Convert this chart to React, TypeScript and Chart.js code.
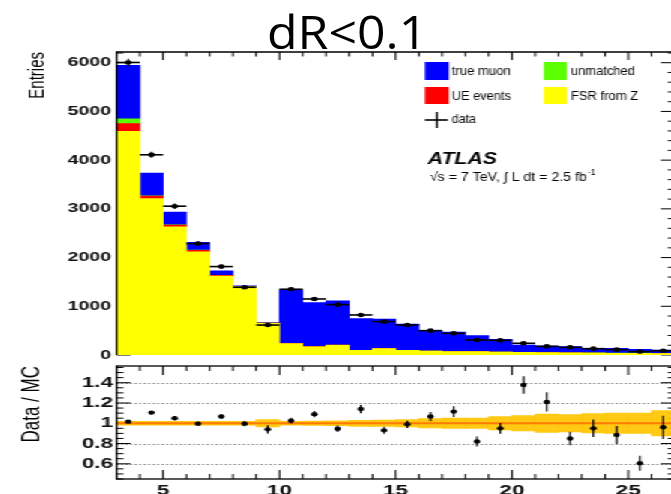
import React, { useEffect, useRef } from "react";
import { Chart, registerables } from "chart.js";

Chart.register(...registerables);

// ---------------- data ----------------
const binEdges = [3, 4, 5, 6, 7, 8, 9, 10, 11, 12, 13, 14, 15, 16, 17, 18, 19, 20, 21, 22, 23, 24, 25, 26, 27];
const binCenters = [3.5, 4.5, 5.5, 6.5, 7.5, 8.5, 9.5, 10.5, 11.5, 12.5, 13.5, 14.5, 15.5, 16.5, 17.5, 18.5, 19.5, 20.5, 21.5, 22.5, 23.5, 24.5, 25.5, 26.5];
const BIN_HALF = 0.5;

const fsrFromZ = [4590, 3210, 2630, 2120, 1620, 1395, 650, 235, 170, 200, 95, 130, 95, 80, 70, 70, 60, 55, 50, 45, 40, 35, 35, 30];
const ueEvents = [160, 50, 35, 28, 15, 5, 3, 3, 3, 3, 2, 2, 2, 2, 2, 1, 1, 1, 1, 1, 1, 1, 1, 1];
const unmatched = [100, 8, 5, 4, 3, 2, 1, 2, 2, 2, 1, 1, 1, 1, 1, 1, 1, 1, 1, 1, 1, 1, 1, 1];
const trueMuon = [1095, 465, 262, 163, 88, 16, 14, 1100, 900, 905, 649, 602, 539, 422, 397, 325, 260, 148, 133, 124, 95, 100, 80, 71];

const dataCounts = [6005, 4110, 3055, 2287, 1815, 1390, 615, 1350, 1150, 1034, 822, 685, 616, 500, 445, 308, 301, 240, 178, 157, 130, 110, 70, 88];
const dataErrors = [78, 64, 55, 48, 43, 37, 25, 37, 34, 32, 29, 26, 25, 22, 21, 18, 17, 15, 13, 13, 11, 10, 8, 9];

const ratioValues = [1.016, 1.105, 1.05, 0.996, 1.066, 0.996, 0.94, 1.026, 1.09, 0.946, 1.14, 0.93, 0.99, 1.066, 1.115, 0.82, 0.95, 1.377, 1.21, 0.85, 0.95, 0.885, 0.605, 0.96];
const ratioErrors = [0.012, 0.015, 0.018, 0.02, 0.024, 0.026, 0.04, 0.028, 0.03, 0.032, 0.041, 0.036, 0.036, 0.045, 0.053, 0.05, 0.053, 0.086, 0.095, 0.066, 0.086, 0.089, 0.074, 0.115];
const mcUncertainty = [0.018, 0.018, 0.018, 0.018, 0.019, 0.02, 0.036, 0.02, 0.021, 0.023, 0.03, 0.031, 0.036, 0.045, 0.05, 0.05, 0.065, 0.075, 0.09, 0.085, 0.095, 0.1, 0.1, 0.125];

const xTicks = [5, 10, 15, 20, 25];
const yTicksMain = [0, 1000, 2000, 3000, 4000, 5000, 6000];
const yTicksRatio = [0.6, 0.8, 1, 1.2, 1.4];

const legendLabels = ["true muon", "unmatched", "UE events", "FSR from Z", "data"];

// ---------------- layout / style ----------------
const SX = 1.5; // horizontal stretch of the whole figure
const CANVAS_W = 460;
const FONT = '"Liberation Sans", Arial, Helvetica, sans-serif';
const C_YELLOW = "#FFFF00";
const C_RED = "#FF0000";
const C_GREEN = "#5CFF00";
const C_BLUE = "#0000FF";

function fitText(ctx: any, text: string, xPx: number, yMid: number, font: string, widthPx: number) {
  ctx.save();
  ctx.font = font;
  const w = ctx.measureText(text).width;
  const k = widthPx / SX / w;
  ctx.translate(xPx / SX, yMid);
  ctx.scale(k, 1);
  ctx.fillStyle = "#000";
  ctx.textBaseline = "middle";
  ctx.textAlign = "left";
  ctx.fillText(text, 0, 0);
  ctx.restore();
}

const mainDeco = {
  id: "mainDeco",
  beforeDatasetsDraw(chart: any) {
    const { ctx, chartArea: a } = chart;
    const x = chart.scales.x;
    const y = chart.scales.y;
    ctx.save();
    ctx.strokeStyle = "#000";
    ctx.lineWidth = 1;
    ctx.beginPath();
    for (let v = 3; v <= 27; v++) {
      const px = x.getPixelForValue(v);
      const len = v % 5 === 0 ? 8 : 4.5;
      ctx.moveTo(px, a.top);
      ctx.lineTo(px, a.top + len);
    }
    for (let v = 0; v <= 6200; v += 200) {
      const py = y.getPixelForValue(v);
      const len = (v % 1000 === 0 ? 14 : 7) / SX;
      ctx.moveTo(a.left, py);
      ctx.lineTo(a.left + len, py);
      ctx.moveTo(a.right, py);
      ctx.lineTo(a.right - len, py);
    }
    ctx.stroke();
    ctx.restore();
  },
  afterDatasetsDraw(chart: any) {
    const { ctx, chartArea: a } = chart;
    const x = chart.scales.x;
    const y = chart.scales.y;
    ctx.save();
    ctx.strokeStyle = "#000";
    for (let i = 0; i < binCenters.length; i++) {
      const xc = x.getPixelForValue(binCenters[i]);
      const xl = x.getPixelForValue(binCenters[i] - BIN_HALF);
      const xr = x.getPixelForValue(binCenters[i] + BIN_HALF);
      const yp = y.getPixelForValue(dataCounts[i]);
      ctx.lineWidth = 1.6;
      ctx.beginPath();
      ctx.moveTo(xl, yp);
      ctx.lineTo(xr, yp);
      ctx.stroke();
      ctx.lineWidth = 1;
      ctx.beginPath();
      ctx.moveTo(xc, y.getPixelForValue(dataCounts[i] + dataErrors[i]));
      ctx.lineTo(xc, y.getPixelForValue(dataCounts[i] - dataErrors[i]));
      ctx.stroke();
    }
    // frame
    ctx.lineWidth = 1.3;
    ctx.beginPath();
    ctx.moveTo(a.left, a.bottom);
    ctx.lineTo(a.left, a.top);
    ctx.lineTo(a.right, a.top);
    ctx.lineTo(a.right, a.bottom);
    ctx.stroke();

    // legend boxes
    const box = (c: string, x0: number, y0: number, w: number, h: number) => {
      ctx.fillStyle = c;
      ctx.fillRect(x0 / SX, y0, w / SX, h);
    };
    box(C_BLUE, 425, 62, 24, 18);
    box(C_GREEN, 544, 62, 23, 18);
    box(C_RED, 425, 87, 24, 17);
    box(C_YELLOW, 544, 87, 23, 17);
    const lf = `13px ${FONT}`;
    fitText(ctx, legendLabels[0], 452, 71.5, lf, 59);
    fitText(ctx, legendLabels[1], 571, 71.5, lf, 64);
    fitText(ctx, legendLabels[2], 452, 96, lf, 59);
    fitText(ctx, legendLabels[3], 571, 96, lf, 67.5);
    fitText(ctx, legendLabels[4], 452, 119.5, lf, 24);
    // data marker in legend
    ctx.strokeStyle = "#000";
    ctx.lineWidth = 1.6;
    ctx.beginPath();
    ctx.moveTo(425 / SX, 120);
    ctx.lineTo(448 / SX, 120);
    ctx.stroke();
    ctx.lineWidth = 1.2;
    ctx.beginPath();
    ctx.moveTo(437 / SX, 112);
    ctx.lineTo(437 / SX, 128);
    ctx.stroke();

    // ATLAS label
    fitText(ctx, "ATLAS", 428, 159, `italic bold 17px ${FONT}`, 69);
    fitText(ctx, "\u221As = 7 TeV, \u222B L dt = 2.5 fb", 430, 178, `12.5px ${FONT}`, 157);
    fitText(ctx, "-1", 588, 173, `8.5px ${FONT}`, 8);
    ctx.restore();
  },
};

const ratioDeco = {
  id: "ratioDeco",
  beforeDatasetsDraw(chart: any) {
    const { ctx, chartArea: a } = chart;
    const x = chart.scales.x;
    const y = chart.scales.y;
    ctx.save();
    // dotted grid
    ctx.strokeStyle = "#8a8a8a";
    ctx.lineWidth = 1;
    ctx.setLineDash([1.5, 1.5]);
    ctx.beginPath();
    for (const v of yTicksRatio) {
      const py = Math.round(y.getPixelForValue(v)) + 0.5;
      ctx.moveTo(a.left, py);
      ctx.lineTo(a.right, py);
    }
    ctx.stroke();
    ctx.setLineDash([]);
    ctx.strokeStyle = "#000";
    ctx.beginPath();
    for (let v = 3; v <= 27; v++) {
      const px = x.getPixelForValue(v);
      const len = v % 5 === 0 ? 9 : 5;
      ctx.moveTo(px, a.top);
      ctx.lineTo(px, a.top + len);
      ctx.moveTo(px, a.bottom);
      ctx.lineTo(px, a.bottom - len);
    }
    for (let k = 9; k <= 31; k++) {
      const v = k * 0.05;
      const py = y.getPixelForValue(v);
      const len = (k % 4 === 0 ? 14 : 7) / SX;
      ctx.moveTo(a.left, py);
      ctx.lineTo(a.left + len, py);
      ctx.moveTo(a.right, py);
      ctx.lineTo(a.right - len, py);
    }
    ctx.stroke();
    ctx.restore();
  },
  afterDatasetsDraw(chart: any) {
    const { ctx, chartArea: a } = chart;
    const x = chart.scales.x;
    const y = chart.scales.y;
    ctx.save();
    ctx.strokeStyle = "#000";
    ctx.lineWidth = 1.1;
    ctx.beginPath();
    for (let i = 0; i < binCenters.length; i++) {
      const xc = x.getPixelForValue(binCenters[i]);
      ctx.moveTo(xc, y.getPixelForValue(ratioValues[i] + ratioErrors[i]));
      ctx.lineTo(xc, y.getPixelForValue(ratioValues[i] - ratioErrors[i]));
    }
    ctx.stroke();
    ctx.lineWidth = 1.3;
    ctx.strokeRect(a.left, a.top, a.right - a.left, a.bottom - a.top);
    ctx.restore();
  },
};

function mainConfig(): any {
  const stackDs = (label: string, values: number[], color: string) => ({
    type: "bar",
    label,
    data: binCenters.map((c, i) => ({ x: c, y: values[i] })),
    backgroundColor: color,
    borderWidth: 0,
    barPercentage: 1,
    categoryPercentage: 1,
    stack: "mc",
  });
  return {
    type: "bar",
    data: {
      datasets: [
        stackDs(legendLabels[3], fsrFromZ, C_YELLOW),
        stackDs(legendLabels[2], ueEvents, C_RED),
        stackDs(legendLabels[1], unmatched, C_GREEN),
        stackDs(legendLabels[0], trueMuon, C_BLUE),
        {
          type: "scatter",
          label: legendLabels[4],
          data: binCenters.map((c, i) => ({ x: c, y: dataCounts[i] })),
          backgroundColor: "#000",
          borderWidth: 0,
          pointRadius: 2.3,
          stack: "pts",
          order: -1,
        },
      ],
    },
    options: {
      responsive: false,
      maintainAspectRatio: false,
      animation: false,
      events: [],
      layout: { padding: { top: 52, right: CANVAS_W - 450, bottom: 5, left: 0 } },
      plugins: { legend: { display: false }, tooltip: { enabled: false }, title: { display: false } },
      scales: {
        x: {
          type: "linear",
          min: 3,
          max: 27,
          offset: false,
          stacked: true,
          display: false,
          afterBuildTicks: (s: any) => {
            s.ticks = xTicks.map((v) => ({ value: v }));
          },
        },
        y: {
          type: "linear",
          min: 0,
          max: 6220,
          stacked: true,
          grid: { display: false, drawTicks: false },
          border: { display: false },
          ticks: {
            font: { family: FONT, size: 13, weight: "bold" },
            color: "#111",
            padding: 3.6,
            callback: (v: any) => String(v),
          },
          afterBuildTicks: (s: any) => {
            s.ticks = yTicksMain.map((v) => ({ value: v }));
          },
          afterFit: (s: any) => {
            s.width = 77.6;
            s.paddingTop = 0;
            s.paddingBottom = 0;
          },
          title: {
            display: true,
            text: "Entries",
            align: "end",
            color: "#000",
            font: { family: FONT, size: 15 },
            padding: { top: 16.3, bottom: 0 },
          },
        },
      },
    },
    plugins: [mainDeco],
  };
}

function ratioConfig(): any {
  return {
    type: "bar",
    data: {
      datasets: [
        {
          type: "scatter",
          label: "Data / MC",
          data: binCenters.map((c, i) => ({ x: c, y: ratioValues[i] })),
          backgroundColor: "#000",
          borderWidth: 0,
          pointRadius: 2.2,
          order: 0,
        },
        {
          type: "line",
          label: "MC",
          data: binEdges.map((e) => ({ x: e, y: 1 })),
          borderColor: "#FF7A00",
          borderWidth: 2,
          pointRadius: 0,
          fill: false,
          order: 1,
        },
        {
          type: "bar",
          label: "MC stat.",
          data: binCenters.map((c, i) => ({ x: c, y: [1 - mcUncertainty[i], 1 + mcUncertainty[i]] })),
          backgroundColor: "rgba(255, 196, 0, 0.92)",
          borderWidth: 0,
          barPercentage: 1,
          categoryPercentage: 1,
          order: 2,
        },
      ],
    },
    options: {
      responsive: false,
      maintainAspectRatio: false,
      animation: false,
      events: [],
      layout: { padding: { top: 6, right: CANVAS_W - 450, bottom: 0, left: 0 } },
      plugins: { legend: { display: false }, tooltip: { enabled: false }, title: { display: false } },
      scales: {
        x: {
          type: "linear",
          min: 3,
          max: 27,
          offset: false,
          grid: { display: false, drawTicks: false },
          border: { display: false },
          ticks: {
            font: { family: FONT, size: 15, weight: "bold" },
            color: "#111",
            padding: 3,
            maxRotation: 0,
            autoSkip: false,
            callback: (v: any) => String(v),
          },
          afterBuildTicks: (s: any) => {
            s.ticks = xTicks.map((v) => ({ value: v }));
          },
          afterFit: (s: any) => {
            s.height = 31;
            s.paddingLeft = 0;
            s.paddingRight = 0;
          },
        },
        y: {
          type: "linear",
          min: 0.45,
          max: 1.565,
          grid: { display: false, drawTicks: false },
          border: { display: false },
          ticks: {
            font: { family: FONT, size: 15, weight: "bold" },
            color: "#111",
            padding: 2.3,
            callback: (v: any) => String(Number(Number(v).toFixed(1))),
          },
          afterBuildTicks: (s: any) => {
            s.ticks = yTicksRatio.map((v) => ({ value: v }));
          },
          afterFit: (s: any) => {
            s.width = 77.6;
            s.paddingTop = 0;
            s.paddingBottom = 0;
          },
          title: {
            display: true,
            text: "Data / MC",
            align: "end",
            color: "#000",
            font: { family: FONT, size: 17 },
            padding: { top: 11.1, bottom: 0 },
          },
        },
      },
    },
    plugins: [ratioDeco],
  };
}

export default function App() {
  const mainRef = useRef<HTMLCanvasElement>(null);
  const ratioRef = useRef<HTMLCanvasElement>(null);

  useEffect(() => {
    const c1 = new Chart(mainRef.current as HTMLCanvasElement, mainConfig());
    const c2 = new Chart(ratioRef.current as HTMLCanvasElement, ratioConfig());
    return () => {
      c1.destroy();
      c2.destroy();
    };
  }, []);

  return (
    <div
      style={{
        position: "absolute",
        left: 0,
        top: 0,
        width: 671,
        height: 494,
        overflow: "hidden",
        background: "#fff",
      }}
    >
      <div
        style={{
          position: "absolute",
          left: 0,
          top: 0,
          width: CANVAS_W,
          height: 510,
          transform: `scaleX(${SX})`,
          transformOrigin: "0 0",
        }}
      >
        <canvas
          ref={mainRef}
          width={CANVAS_W}
          height={360}
          style={{ position: "absolute", left: 0, top: 0, width: CANVAS_W, height: 360 }}
        />
        <canvas
          ref={ratioRef}
          width={CANVAS_W}
          height={150}
          style={{ position: "absolute", left: 0, top: 360, width: CANVAS_W, height: 150 }}
        />
      </div>
      <div
        style={{
          position: "absolute",
          left: 267,
          top: 9,
          fontFamily: '"Open Sans", "Noto Sans", sans-serif',
          fontSize: 45,
          lineHeight: 1,
          transform: "scaleX(1.11)",
          transformOrigin: "0 0",
          whiteSpace: "nowrap",
          color: "#000",
        }}
      >
        dR&lt;0.1
      </div>
    </div>
  );
}
